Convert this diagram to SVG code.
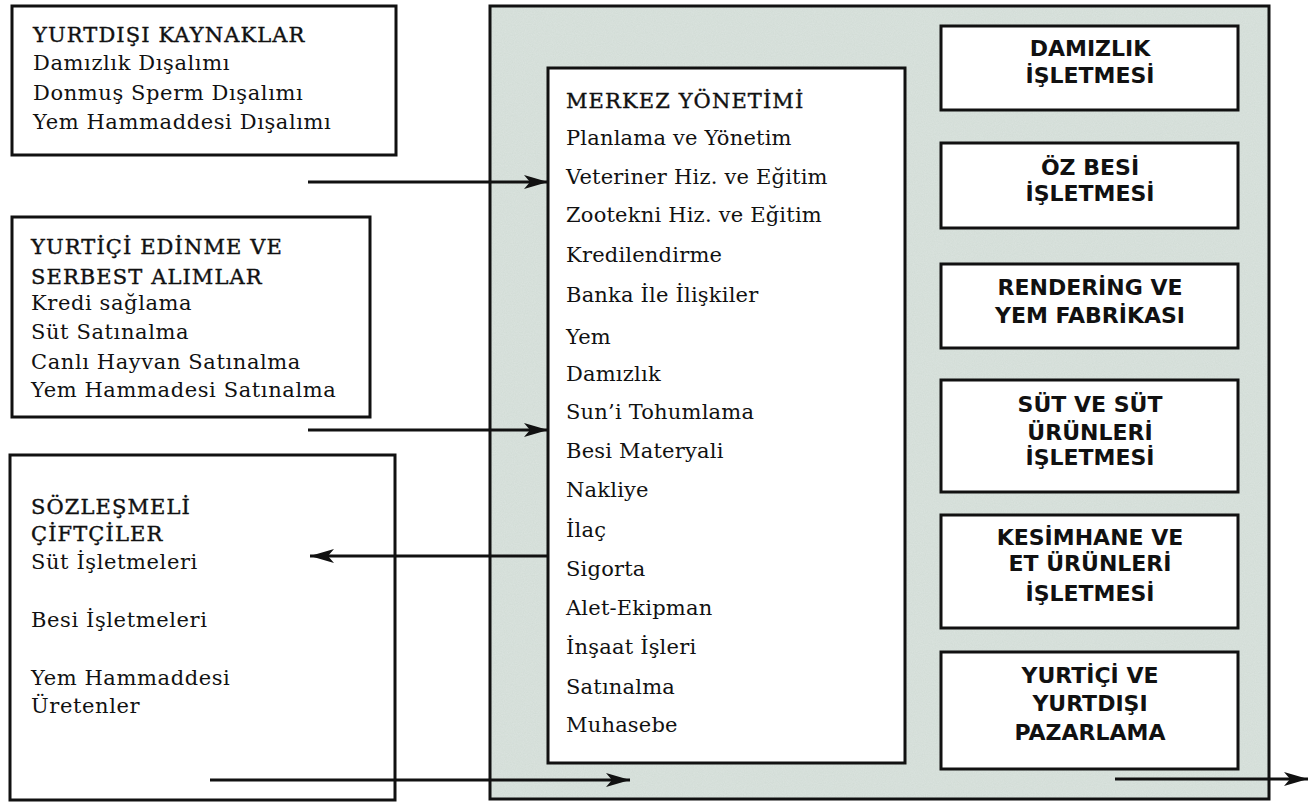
<svg xmlns="http://www.w3.org/2000/svg" width="1313" height="803" viewBox="0 0 1313 803">
<defs>
<marker id="ah" viewBox="0 0 24 14" refX="24" refY="7" markerWidth="24" markerHeight="14" markerUnits="userSpaceOnUse" orient="auto">
<path d="M0,0 L24,7 L0,14 L6,7 Z" fill="#111"/>
</marker>
<filter id="tex" x="0" y="0" width="100%" height="100%">
<feTurbulence type="fractalNoise" baseFrequency="0.9" numOctaves="2" seed="3" result="n"/>
<feColorMatrix in="n" type="matrix" values="0 0 0 0 0.74  0 0 0 0 0.80  0 0 0 0 0.77  0 0 0 -1.2 1.1" result="c"/>
<feComposite in="c" in2="SourceGraphic" operator="in"/>
</filter>
<style>
.box{fill:#fff;stroke:#111;stroke-width:3}
.t{font-family:"DejaVu Serif","Liberation Serif",serif;font-size:21px;letter-spacing:0.6px;fill:#111}
.m{font-family:"DejaVu Serif","Liberation Serif",serif;font-size:21px;letter-spacing:0.2px;fill:#111}
.h{font-family:"DejaVu Serif","Liberation Serif",serif;font-size:21px;letter-spacing:1.1px;fill:#111;stroke:#111;stroke-width:0.4}
.r{font-family:"DejaVu Sans","Liberation Sans",sans-serif;font-size:22px;font-weight:bold;fill:#111;text-anchor:middle}
.c{stroke:#111;stroke-width:3;fill:none;marker-end:url(#ah)}
</style>
</defs>
<rect width="1313" height="803" fill="#fff"/>

<g id="frame">
<rect x="490" y="6" width="779" height="793" fill="#d2dcd6" stroke="none"/>
<rect x="490" y="6" width="779" height="793" fill="#c9d3ce" filter="url(#tex)" opacity="0.6"/>
<rect x="490" y="6" width="779" height="793" fill="none" stroke="#111" stroke-width="3"/>
</g>

<g id="yurtdisi">
<rect class="box" x="12" y="6" width="384" height="149"/>
<text class="h" x="33" y="42">YURTDIŞI KAYNAKLAR</text>
<text class="t" x="33" y="70">Damızlık Dışalımı</text>
<text class="t" x="33" y="100">Donmuş Sperm Dışalımı</text>
<text class="t" x="33" y="129">Yem Hammaddesi Dışalımı</text>
</g>

<g id="yurtici">
<rect class="box" x="12" y="217" width="358" height="200"/>
<text class="h" x="31" y="254">YURTİÇİ EDİNME VE</text>
<text class="h" x="31" y="284">SERBEST ALIMLAR</text>
<text class="t" x="31" y="310">Kredi sağlama</text>
<text class="t" x="31" y="339">Süt Satınalma</text>
<text class="t" x="31" y="369">Canlı Hayvan Satınalma</text>
<text class="t" x="31" y="397">Yem Hammadesi Satınalma</text>
</g>

<g id="sozlesmeli">
<rect class="box" x="10" y="455" width="385" height="345"/>
<text class="h" x="31" y="514">SÖZLEŞMELİ</text>
<text class="h" x="31" y="541">ÇİFTÇİLER</text>
<text class="t" x="31" y="569">Süt İşletmeleri</text>
<text class="t" x="31" y="627">Besi İşletmeleri</text>
<text class="t" x="31" y="685">Yem Hammaddesi</text>
<text class="t" x="31" y="713">Üretenler</text>
</g>

<g id="merkez">
<rect class="box" x="548" y="68" width="357" height="695"/>
<text class="h" x="566" y="108">MERKEZ YÖNETİMİ</text>
<text class="m" x="566" y="145">Planlama ve Yönetim</text>
<text class="m" x="566" y="184">Veteriner Hiz. ve Eğitim</text>
<text class="m" x="566" y="222">Zootekni Hiz. ve Eğitim</text>
<text class="m" x="566" y="262">Kredilendirme</text>
<text class="m" x="566" y="302">Banka İle İlişkiler</text>
<text class="m" x="566" y="344">Yem</text>
<text class="m" x="566" y="381">Damızlık</text>
<text class="m" x="566" y="419">Sun’i Tohumlama</text>
<text class="m" x="566" y="458">Besi Materyali</text>
<text class="m" x="566" y="497">Nakliye</text>
<text class="m" x="566" y="537">İlaç</text>
<text class="m" x="566" y="576">Sigorta</text>
<text class="m" x="566" y="615">Alet-Ekipman</text>
<text class="m" x="566" y="654">İnşaat İşleri</text>
<text class="m" x="566" y="694">Satınalma</text>
<text class="m" x="566" y="732">Muhasebe</text>
</g>

<g id="damizlik">
<rect class="box" x="941" y="26" width="297" height="84"/>
<text class="r" x="1090" y="56">DAMIZLIK</text>
<text class="r" x="1090" y="83">İŞLETMESİ</text>
</g>
<g id="ozbesi">
<rect class="box" x="941" y="143" width="297" height="85"/>
<text class="r" x="1090" y="175">ÖZ BESİ</text>
<text class="r" x="1090" y="201">İŞLETMESİ</text>
</g>
<g id="rendering">
<rect class="box" x="941" y="264" width="297" height="84"/>
<text class="r" x="1090" y="295">RENDERİNG VE</text>
<text class="r" x="1090" y="323">YEM FABRİKASI</text>
</g>
<g id="sut">
<rect class="box" x="941" y="380" width="297" height="112"/>
<text class="r" x="1090" y="412">SÜT VE SÜT</text>
<text class="r" x="1090" y="440">ÜRÜNLERİ</text>
<text class="r" x="1090" y="465">İŞLETMESİ</text>
</g>
<g id="kesimhane">
<rect class="box" x="941" y="515" width="297" height="113"/>
<text class="r" x="1090" y="545">KESİMHANE VE</text>
<text class="r" x="1090" y="571">ET ÜRÜNLERİ</text>
<text class="r" x="1090" y="601">İŞLETMESİ</text>
</g>
<g id="pazarlama">
<rect class="box" x="941" y="652" width="297" height="117"/>
<text class="r" x="1090" y="683">YURTİÇİ VE</text>
<text class="r" x="1090" y="711">YURTDIŞI</text>
<text class="r" x="1090" y="740">PAZARLAMA</text>
</g>

<g id="connectors">
<line class="c" x1="308" y1="182" x2="548" y2="182"/>
<line class="c" x1="308" y1="430" x2="548" y2="430"/>
<line class="c" x1="548" y1="556" x2="310" y2="556"/>
<line class="c" x1="210" y1="780" x2="630" y2="780"/>
<line class="c" x1="1115" y1="779" x2="1308" y2="779"/>
</g>
</svg>
